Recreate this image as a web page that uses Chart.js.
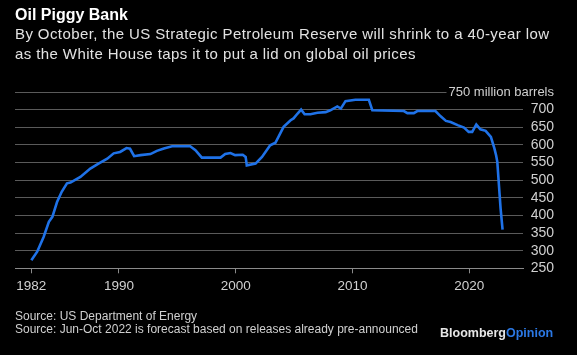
<!DOCTYPE html>
<html>
<head>
<meta charset="utf-8">
<script src="https://cdn.jsdelivr.net/npm/chart.js@4"></script>
<style>
  html, body { margin:0; padding:0; background:#000; }
  #wrap { position:relative; width:577px; height:355px; background:#000; overflow:hidden; font-family:"Liberation Sans", Arial, sans-serif; }
  canvas { position:absolute; left:0; top:0; }
  .t { position:absolute; white-space:nowrap; }
  #title { left:15px; top:5px; font-size:16px; line-height:20px; font-weight:bold; color:#fff; }
  #sub { left:15px; top:24px; font-size:15px; line-height:20px; color:#e2e2e2; letter-spacing:0.4px; }
  #src { left:15px; top:310px; font-size:12px; line-height:12.5px; color:#d0d0d0; }
  #logo { left:440px; top:325px; font-size:12.5px; line-height:16px; font-weight:bold; color:#e6e6e6; }
  #logo span { color:#2b78e4; }
</style>
</head>
<body>
<div id="wrap">
  <canvas id="c" width="577" height="355"></canvas>
  <div class="t" id="title">Oil Piggy Bank</div>
  <div class="t" id="sub">By October, the US Strategic Petroleum Reserve will shrink to a 40-year low<br>as the White House taps it to put a lid on global oil prices</div>
  <div class="t" id="src">Source: US Department of Energy<br>Source: Jun-Oct 2022 is forecast based on releases already pre-announced</div>
  <div class="t" id="logo">Bloomberg<span>Opinion</span></div>
</div>
<script>
// Time (decimal years) and SPR inventory (million barrels)
const years = [
  1982.5, 1983.0, 1983.55, 1984.0, 1984.3, 1984.7, 1985.1, 1985.55, 1985.85, 1986.7,
  1987.55, 1988.25, 1989.0, 1989.55, 1990.1, 1990.65, 1990.95, 1991.3, 1991.85, 1992.7,
  1993.25, 1993.85, 1994.55, 1996.1, 1996.55, 1997.1, 1998.7, 1999.1, 1999.55, 1999.95,
  2000.6, 2000.85, 2000.95, 2001.7, 2002.25, 2002.95, 2003.4, 2004.1, 2004.7, 2004.95,
  2005.3, 2005.6, 2005.9, 2006.4, 2007.0, 2007.7, 2008.1, 2008.7, 2009.0, 2009.4,
  2010.25, 2011.4, 2011.7, 2014.4, 2014.7, 2015.25, 2015.55, 2017.1, 2017.55, 2018.0,
  2018.4, 2019.0, 2019.55, 2019.95, 2020.25, 2020.6, 2020.95, 2021.4, 2021.85, 2022.15,
  2022.3, 2022.4, 2022.55, 2022.68, 2022.85
];
const barrels = [
  273, 297, 339, 382, 396, 438, 467, 491, 493, 509,
  533, 547, 561, 576, 580, 591, 589, 568, 571, 574,
  583, 590, 596, 596, 585, 564, 564, 574, 577, 571,
  572, 566, 542, 547, 566, 599, 606, 651, 670, 675,
  689, 700, 687, 687, 691, 693, 698, 709, 703, 724,
  728, 728, 698, 696, 690, 690, 696, 696, 681, 668,
  665, 656, 649, 637, 637, 658, 644, 640, 623, 590,
  570, 552, 481, 420, 360
];
const xTickValues = [1982.5, 1990, 2000, 2010, 2020];
const xTickLabels = ['1982', '1990', '2000', '2010', '2020'];
const yUnitLabel = '750 million barrels';

const points = years.map((y, i) => ({ x: y, y: barrels[i] }));

new Chart(document.getElementById('c'), {
  type: 'line',
  data: {
    datasets: [{
      data: points,
      borderColor: '#1f72e8',
      borderWidth: 2.6,
      pointRadius: 0,
      tension: 0,
      fill: false
    }]
  },
  options: {
    responsive: false,
    animation: false,
    devicePixelRatio: 1,
    layout: { padding: { top: 92, left: 15, right: 23, bottom: 56.7 } },
    plugins: { legend: { display: false }, tooltip: { enabled: false } },
    scales: {
      x: {
        type: 'linear',
        min: 1981.1,
        max: 2024.6,
        afterBuildTicks: (s) => { s.ticks = xTickValues.map(v => ({ value: v })); },
        afterFit: (s) => { s.height = 30; },
        ticks: {
          autoSkip: false,
          maxRotation: 0,
          padding: 5,
          color: '#d0d0d0',
          font: { family: 'Liberation Sans', size: 13.5 },
          callback: (v, i) => xTickLabels[i]
        },
        grid: { drawOnChartArea: false, drawTicks: true, tickLength: 5, color: '#8a8a8a' },
        border: { display: true, color: '#8a8a8a', width: 1 }
      },
      y: {
        position: 'right',
        min: 250,
        max: 750,
        afterFit: (s) => { s.width = 31; },
        ticks: {
          stepSize: 50,
          autoSkip: false,
          mirror: true,
          padding: 31,
          color: '#d0d0d0',
          font: (ctx) => ({ family: 'Liberation Sans', size: (ctx.tick && ctx.tick.value === 750) ? 13 : 14 }),
          showLabelBackdrop: true,
          backdropColor: '#000',
          backdropPadding: { x: 2, y: 0 },
          callback: (v) => v === 750 ? yUnitLabel : String(v)
        },
        grid: { color: '#5a5a5a', lineWidth: 1, drawTicks: false },
        border: { display: false }
      }
    }
  }
});
</script>
</body>
</html>
